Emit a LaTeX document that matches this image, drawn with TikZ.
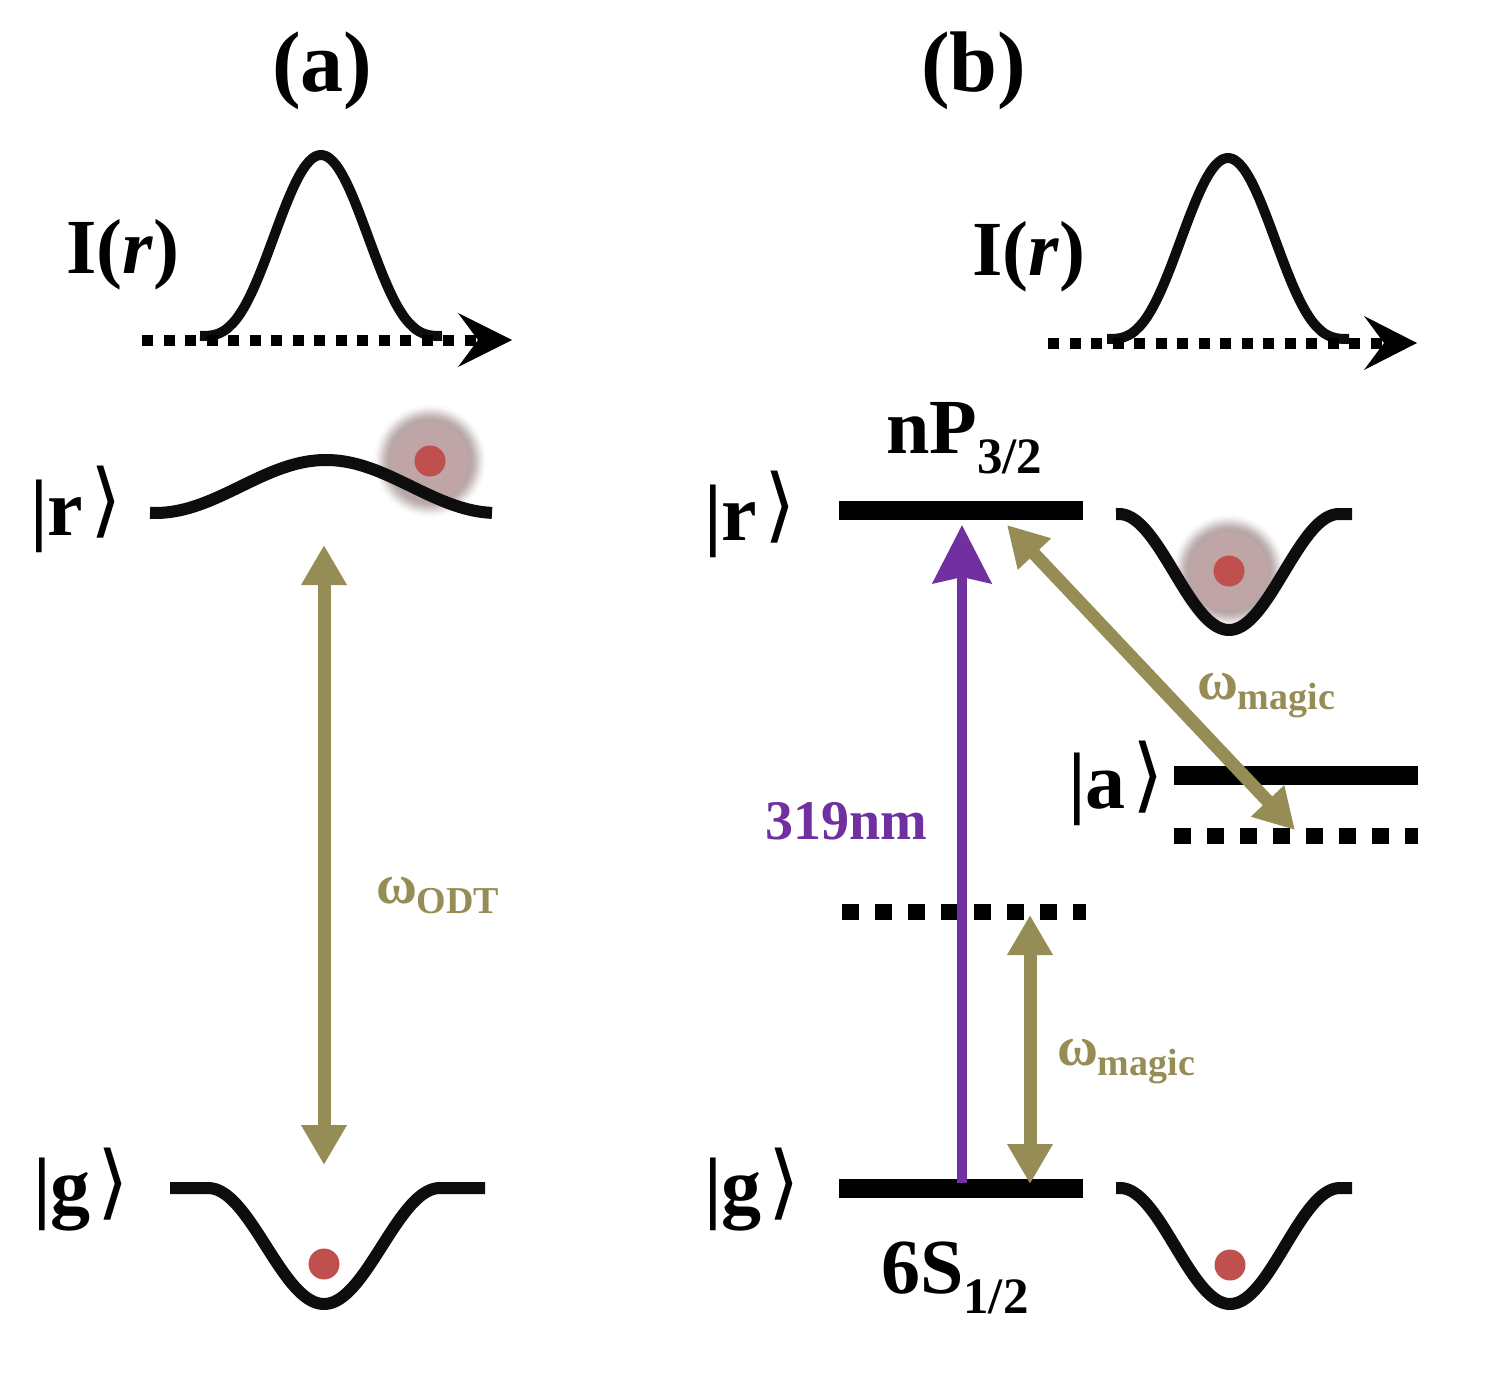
\documentclass[tikz,border=0pt]{standalone}
\usepackage{fontspec}
\setmainfont{Liberation Serif}
\newfontfamily\dvfont{DejaVu Sans}
\usetikzlibrary{arrows.meta}
\definecolor{khaki}{HTML}{968C55}
\definecolor{violetline}{HTML}{7030A0}
\definecolor{dotred}{HTML}{C0504D}
\definecolor{glowc}{HTML}{BFA5A5}
\definecolor{glowe}{HTML}{B7A6A6}
\newcommand{\fs}[1]{\fontsize{#1pt}{#1pt}\selectfont}
\newcommand{\ketx}[2]{\fs{40}\bfseries |#2\hspace{3.5pt}\raisebox{#1}{\mdseries\dvfont\fs{40.5}⟩}}
\newcommand{\omlab}[1]{\fs{28}\bfseries ω\raisebox{-5pt}{\fs{19}#1}}
\newcommand{\glowat}[2]{%
  \foreach \rr in {57,56,...,40}{%
    \pgfmathsetmacro{\tt}{min(1,(58-\rr)/18)}%
    \pgfmathsetmacro{\pp}{100*\tt*\tt*(3-2*\tt)}%
    \fill[glowe!\pp!white] (#1,#2) circle (\rr);
  }%
  \fill[glowc] (#1,#2) circle (39);
}
\tikzset{
 x=0.5pt,y=-0.5pt,
 lbl/.style={anchor=base west,inner sep=0pt,outer sep=0pt,text=black},
 curve/.style={line width=#1,black!95,line join=round},
 level/.style={line width=9.5pt,black},
 dashlevel/.style={line width=8pt,black,dash pattern=on 8.25pt off 8.25pt},
 axisline/.style={line width=5.5pt,black,dash pattern=on 5.5pt off 5.25pt},
 headfill/.style={fill=black},
 ktrans/.style={line width=6.5pt,khaki,{Triangle[length=20pt,width=21.5pt]}-{Triangle[length=20pt,width=21.5pt]}},
 vtrans/.style={line width=5pt,violetline,-{Stealth[length=29pt,width=29pt,inset=3pt]}},
 atom/.style={fill=dotred},
}
\begin{document}
\begin{tikzpicture}
\useasboundingbox (0,0) rectangle (1504,1380);
% named points
\coordinate (ra1) at (839,510); \coordinate (ra2) at (1083,510);
\coordinate (ga1) at (839,1188); \coordinate (ga2) at (1083,1188);
\coordinate (aa1) at (1174,775); \coordinate (aa2) at (1418,775);
\coordinate (da1) at (1174,836); \coordinate (da2) at (1418,836);
\coordinate (db1) at (842,912); \coordinate (db2) at (1086,912);
\coordinate (ax1) at (142,340); \coordinate (ax2) at (482,340);
\coordinate (bx1) at (1048,343); \coordinate (bx2) at (1388,343);
% glows
\glowat{430}{461}
\glowat{1229}{571}
% intensity curves
\draw[curve=5pt,domain=200:442,samples=90,smooth] plot (\x,{336-181*(0.5+0.5*cos(180/121*(\x-321)))^1.5});
\draw[curve=5pt,domain=1107:1349,samples=90,smooth] plot (\x,{339-181*(0.5+0.5*cos(180/121*(\x-1228)))^1.5});
% axes
\draw[axisline] (ax1) -- (ax2);
\draw[axisline] (bx1) -- (bx2);
\fill[headfill] (512,340) -- (458,313) -- (478,340) -- (458,367) -- cycle;
\fill[headfill] (1417,343) -- (1364,316) -- (1384,343) -- (1364,370) -- cycle;
% potentials
\draw[curve=6pt,domain=150:492,samples=90,smooth] plot (\x,{513-53*(0.5+0.5*cos(180/171*(\x-326)))});
\draw[curve=6pt,domain=170:485,samples=120,smooth] plot (\x,{1188+116*(0.5+0.5*cos(180/116*min(abs(\x-324),116)))});
\draw[curve=6pt,domain=1116:1352,samples=90,smooth] plot (\x,{514+116*(0.5+0.5*cos(180/110*min(abs(\x-1229),110)))});
\draw[curve=6pt,domain=1116:1352,samples=90,smooth] plot (\x,{1188+116*(0.5+0.5*cos(180/110*min(abs(\x-1230),110)))});
% levels
\draw[level] (ra1) -- (ra2);
\draw[level] (ga1) -- (ga2);
\draw[level] (aa1) -- (aa2);
\draw[dashlevel] (da1) -- (da2);
\draw[dashlevel] (db1) -- (db2);
% atoms
\fill[atom] (430,461) circle (15.5);
\fill[atom] (1229,571) circle (15.5);
\fill[atom] (324,1264) circle (15.5);
\fill[atom] (1230,1265) circle (15.5);
% transitions
\coordinate (t1) at (324,545); \coordinate (t2) at (324,1165);
\coordinate (t3) at (1030,915); \coordinate (t4) at (1030,1184);
\coordinate (t5) at (1007,525); \coordinate (t6) at (1295,830);
\coordinate (t7) at (962,1183); \coordinate (t8) at (962,525);
\draw[vtrans] (t7) -- (t8);
\draw[ktrans] (t1) -- (t2);
\draw[ktrans] (t3) -- (t4);
\draw[ktrans] (t5) -- (t6);
% text
\node[lbl] (la) at (272,92) {\fs{43}\bfseries (a)};
\node[lbl] (lb) at (921,92) {\fs{43}\bfseries (b)};
\node[lbl] (ia) at (66,273) {\fs{39}\bfseries I(\textit{r})};
\node[lbl] (ib) at (972,276) {\fs{39}\bfseries I(\textit{r})};
\node[lbl] (k1) at (30,535) {\ketx{4pt}{r}};
\node[lbl] (k2) at (33,1213) {\ketx{2pt}{g}};
\node[lbl] (k3) at (704,540) {\ketx{4pt}{r}};
\node[lbl] (k4) at (704,1213) {\ketx{2pt}{g}};
\node[lbl] (k5) at (1068,808) {\ketx{3pt}{a}};
\node[lbl] (np) at (886,453) {\fs{39}\bfseries nP\raisebox{-10pt}{\fs{25.5}3/2}};
\node[lbl] (ss) at (881,1293) {\fs{39}\bfseries 6S\raisebox{-10pt}{\fs{25.5}1/2}};
\node[lbl,text=violetline] (nm) at (765,839) {\fs{28}\bfseries 319nm};
\node[lbl,text=khaki] (w1) at (376,903) {\omlab{ODT}};
\node[lbl,text=khaki] (w2) at (1197,699) {\omlab{magic}};
\node[lbl,text=khaki] (w3) at (1057,1065) {\omlab{magic}};
\end{tikzpicture}
\end{document}
